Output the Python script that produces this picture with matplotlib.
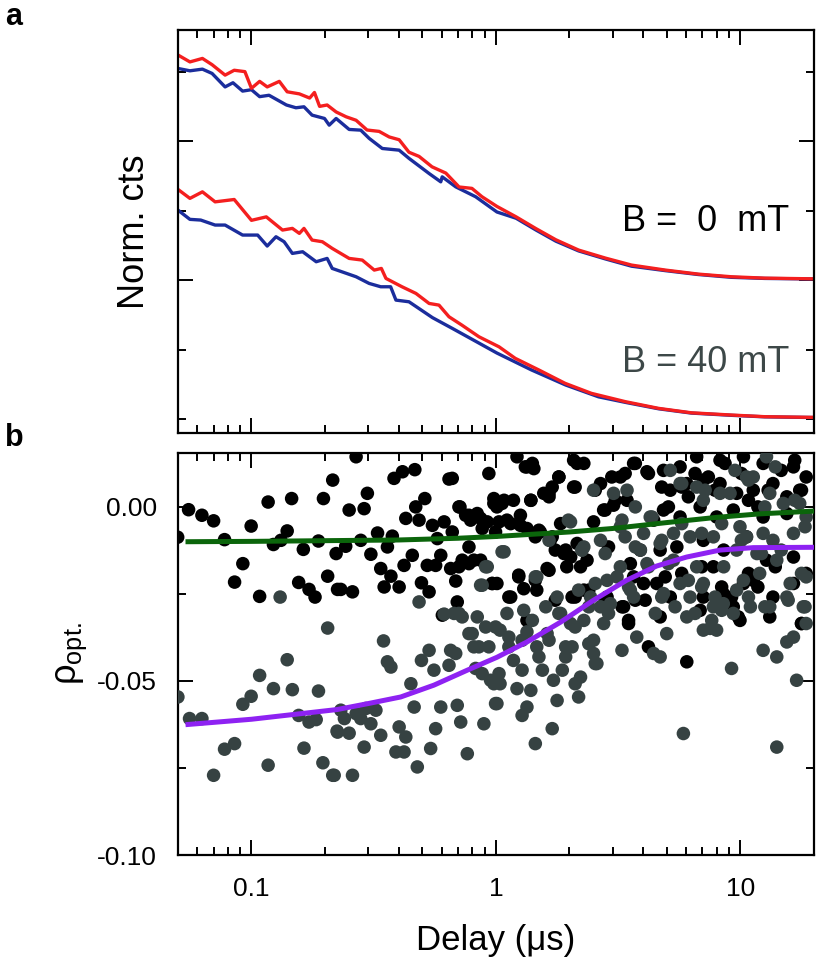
import matplotlib.pyplot as plt
from matplotlib.ticker import FixedLocator, LogLocator, NullFormatter

plt.rcParams['font.family'] = ['Liberation Sans', 'DejaVu Sans']
plt.rcParams['mathtext.fontset'] = 'custom'
plt.rcParams['mathtext.rm'] = 'Liberation Sans'

## Panel a: normalised counts (upper pair = B 0 mT offset by 1, lower pair = B 40 mT)
t_red_0 = [0.050, 0.056, 0.063, 0.069, 0.078, 0.085, 0.094, 0.100, 0.108, 0.116, 0.130, 0.140,
           0.157, 0.173, 0.181, 0.190, 0.204, 0.222, 0.244, 0.268, 0.297, 0.333, 0.366, 0.402,
           0.441, 0.485, 0.548, 0.624, 0.707, 0.798, 0.877, 1.01, 1.21, 1.46, 1.76, 2.18, 2.81,
           3.59, 4.94, 6.74, 9.19, 12.6, 20.0]
y_red_0 = [2.62, 2.57, 2.595, 2.55, 2.475, 2.51, 2.50, 2.38, 2.43, 2.39, 2.43, 2.355,
           2.34, 2.31, 2.35, 2.25, 2.26, 2.21, 2.175, 2.15, 2.08, 2.07, 2.03, 2.01,
           1.92, 1.89, 1.815, 1.77, 1.67, 1.66, 1.60, 1.53, 1.455, 1.37, 1.29, 1.216, 1.158,
           1.108, 1.072, 1.043, 1.024, 1.014, 1.009]
t_blue_0 = [0.050, 0.056, 0.063, 0.069, 0.078, 0.084, 0.092, 0.100, 0.108, 0.118, 0.139, 0.152,
            0.164, 0.177, 0.199, 0.208, 0.222, 0.251, 0.280, 0.303, 0.343, 0.402, 0.441, 0.533,
            0.595, 0.603, 0.685, 0.826, 1.01, 1.21, 1.46, 1.76, 2.18, 2.81, 3.59, 4.94, 6.74,
            9.19, 12.6, 20.0]
y_blue_0 = [2.523, 2.506, 2.518, 2.487, 2.39, 2.42, 2.36, 2.37, 2.32, 2.33, 2.26, 2.24,
            2.247, 2.187, 2.163, 2.115, 2.163, 2.084, 2.079, 2.02, 1.947, 1.935, 1.876, 1.767,
            1.707, 1.743, 1.671, 1.60, 1.49, 1.445, 1.36, 1.28, 1.21, 1.152, 1.10, 1.068, 1.04,
            1.02, 1.012, 1.008]
t_red_40 = [0.050, 0.056, 0.063, 0.071, 0.085, 0.100, 0.115, 0.134, 0.147, 0.157, 0.164, 0.177,
            0.195, 0.214, 0.251, 0.284, 0.318, 0.340, 0.355, 0.413, 0.471, 0.533, 0.585, 0.643,
            0.726, 0.853, 1.03, 1.20, 1.50, 1.92, 2.46, 3.39, 4.63, 6.31, 9.19, 12.6, 20.0]
y_red_40 = [1.653, 1.588, 1.635, 1.563, 1.58, 1.43, 1.455, 1.36, 1.372, 1.336, 1.372, 1.288,
            1.276, 1.228, 1.156, 1.144, 1.072, 1.084, 1.012, 0.952, 0.904, 0.832, 0.82, 0.736,
            0.676, 0.592, 0.52, 0.437, 0.353, 0.257, 0.185, 0.125, 0.077, 0.045, 0.029, 0.017, 0.012]
t_blue_40 = [0.050, 0.056, 0.062, 0.071, 0.078, 0.092, 0.106, 0.116, 0.126, 0.136, 0.147, 0.162,
             0.184, 0.204, 0.214, 0.268, 0.303, 0.338, 0.371, 0.390, 0.441, 0.55, 0.664, 0.826,
             1.01, 1.40, 1.93, 2.63, 3.39, 4.63, 6.31, 9.19, 12.6, 20.0]
y_blue_40 = [1.504, 1.437, 1.432, 1.396, 1.396, 1.324, 1.324, 1.245, 1.312, 1.276, 1.192, 1.204,
             1.132, 1.156, 1.084, 1.024, 0.976, 0.952, 0.952, 0.856, 0.844, 0.73, 0.652, 0.56,
             0.475, 0.353, 0.245, 0.16, 0.12, 0.074, 0.043, 0.027, 0.016, 0.011]

## Panel b: rho_opt. for B = 0 mT (black) and B = 40 mT (grey)
t_black = [0.0499, 0.0553, 0.0627, 0.070, 0.0776, 0.0853, 0.0922, 0.0997, 0.108, 0.117, 0.123, 0.132,
           0.140, 0.146, 0.156, 0.163, 0.172, 0.182, 0.188, 0.197, 0.205, 0.215, 0.222, 0.225,
           0.268, 0.232, 0.259, 0.251, 0.289, 0.298, 0.243, 0.280, 0.308, 0.328, 0.338, 0.349,
           0.360, 0.372, 0.377, 0.383, 0.402, 0.415, 0.421, 0.428, 0.455, 0.466, 0.470, 0.485,
           0.496, 0.512, 0.533, 0.524, 0.550, 0.567, 0.576, 0.595, 0.614, 0.643, 0.653, 0.663,
           0.685, 0.695, 0.713, 0.728, 0.752, 0.776, 0.788, 0.813, 0.839, 0.866, 0.879, 0.922,
           0.936, 0.966, 0.981, 0.997, 0.604,
           1.22, 1.34, 1.43, 2.08, 2.29, 3.66, 4.15, 1.01, 1.08, 1.18, 1.03, 1.15,
           1.26, 1.39, 1.34, 1.57, 1.70, 1.81, 1.65, 1.52, 1.67, 1.84, 1.75, 1.90,
           2.02, 2.08, 2.15, 2.22, 2.36, 2.51, 2.68, 2.76, 2.89, 3.03, 3.23, 3.44,
           3.55, 3.90, 4.08, 3.49, 4.21, 4.42, 1.01, 1.15, 1.24, 1.30, 1.47, 1.62,
           1.95, 2.05, 2.29, 2.85, 3.33, 3.66, 4.02, 1.34, 1.45,
           4.85, 5.67, 6.63, 8.26, 10.3, 12.4, 16.5, 18.6, 5.17, 6.04, 7.06, 8.26,
           9.66, 11.3, 13.6, 15.5, 17.5, 4.85, 5.67, 6.85, 8.00, 9.36, 12.4, 15.5,
           4.70, 5.50, 7.06, 8.55, 10.6, 12.8, 16.5, 18.6, 4.55, 5.85, 7.06, 8.52,
           10.3, 11.3, 13.6, 16.5, 4.70, 6.85, 9.97, 13.2, 17.8, 6.04, 5.17, 7.76, 9.36,
           0.663, 0.706, 0.776, 0.866, 0.981, 1.06, 1.11, 1.26, 1.32, 1.41, 1.39, 1.50,
           1.65, 1.70, 1.81, 1.93, 2.02, 2.15, 2.11, 2.55, 2.80, 2.98, 3.08, 3.38,
           3.72, 4.21, 4.77, 5.08, 5.76, 6.13, 6.53, 7.40, 7.88, 8.66, 10.1, 10.8,
           11.8, 13.0, 14.7, 16.7, 17.8, 0.706, 0.776, 0.966, 1.13, 1.24, 1.45, 1.65,
           1.75, 2.11, 2.40, 2.80, 3.28, 3.49, 3.72, 4.93, 5.76, 6.95, 8.39, 9.81,
           10.8, 11.8, 13.9, 17.8, 9.21]
rho_black = [-0.0087, -0.0008, -0.0024, -0.0040, -0.0094, -0.0216, -0.0163, -0.0055, -0.0257, 0.0014, -0.0108, -0.0096,
             -0.0069, 0.0024, -0.0217, -0.0122, -0.0237, -0.0259, -0.0098, 0.0024, -0.0199, 0.0077, -0.0134, -0.0237,
             0.0144, -0.0237, -0.0244, -0.0009, -0.0005, 0.0039, -0.0113, -0.0096, -0.0136, -0.0075, -0.0177, -0.0230,
             -0.0115, -0.0199, -0.0084, 0.0082, -0.0230, 0.0101, -0.0168, -0.0033, -0.0139, 0.0107, 0.0000, -0.0038,
             -0.0218, 0.0024, -0.0244, -0.0168, -0.0053, -0.0168, -0.0091, -0.0139, -0.0043, 0.0080, -0.0177, -0.0072,
             -0.0213, -0.0273, 0.0000, -0.0153, -0.0024, -0.0115, -0.0038, -0.0153, -0.0019, -0.0153, -0.0062, -0.0043,
             0.0096, -0.0220, 0.0010, -0.0072, -0.0311,
             0.0144, 0.0115, 0.0110, 0.0134, 0.0125, 0.0125, 0.0101, 0.0000, 0.0019, 0.0019, -0.0043, -0.0048,
             -0.0024, 0.0019, -0.0062, 0.0039, 0.0057, 0.0086, 0.0029, -0.0072, -0.0096, -0.0048, -0.0124, -0.0134,
             -0.0144, 0.0057, -0.0105, -0.0172, -0.0153, -0.0043, 0.0067, -0.0009, -0.0115, 0.0005, 0.0086, 0.0019,
             -0.0163, -0.0124, -0.0268, -0.0335, -0.0402, -0.0038, -0.0220, -0.0259, -0.0201, -0.0235, -0.0239, -0.0177,
             -0.0172, -0.0259, -0.0239, -0.0259, -0.0287, -0.0201, -0.0220, -0.0326, -0.0086,
             0.0105, 0.0115, 0.0144, 0.0134, 0.0144, 0.0125, 0.0115, 0.0086, 0.0048, 0.0067, 0.0077, 0.0067,
             0.0039, 0.0048, 0.0067, 0.0029, 0.0048, -0.0009, -0.0029, 0.0000, -0.0029, -0.0009, -0.0029, -0.0019,
             -0.0124, -0.0115, -0.0096, -0.0124, -0.0086, -0.0153, -0.0144, -0.0191, -0.0220, -0.0211, -0.0259, -0.0249,
             -0.0220, -0.0211, -0.0259, -0.0220, -0.0316, -0.0297, -0.0326, -0.0316, -0.0335, -0.0445, -0.0259, -0.0172, -0.0287,
             0.0082, 0.0000, -0.0024, -0.0033, 0.0024, 0.0010, -0.0038, -0.0053, 0.0115, 0.0125, 0.0019, -0.0067,
             0.0039, -0.0086, 0.0086, -0.0124, -0.0144, 0.0125, 0.0057, 0.0048, -0.0009, 0.0086, 0.0019, 0.0096,
             0.0125, 0.0096, 0.0057, 0.0000, 0.0057, 0.0029, 0.0096, 0.0086, 0.0048, 0.0125, 0.0096, 0.0019,
             0.0000, 0.0048, 0.0105, 0.0134, 0.0048, -0.0172, -0.0163, -0.0220, -0.0259, -0.0196, -0.0211, -0.0182,
             -0.0268, -0.0259, -0.0239, -0.0268, -0.0287, -0.0326, -0.0268, -0.0201, -0.0191, -0.0172, -0.0230, -0.0316,
             -0.0191, -0.0230, -0.0172, -0.0335, -0.0259]

t_grey = [0.0500, 0.0558, 0.0627, 0.0700, 0.0776, 0.0853, 0.0922, 0.0997, 0.108, 0.117, 0.123, 0.131,
          0.140, 0.147, 0.156, 0.164, 0.172, 0.184, 0.188, 0.196, 0.205, 0.215, 0.224,
          0.218, 0.259, 0.225, 0.251, 0.232, 0.240, 0.268, 0.280, 0.294, 0.308, 0.323, 0.289,
          0.338, 0.347, 0.360, 0.372, 0.390, 0.402, 0.421, 0.428, 0.449, 0.463, 0.477, 0.485,
          0.496, 0.533, 0.541, 0.558, 0.567, 0.595, 0.614, 0.643, 0.653, 0.674, 0.695, 0.718,
          0.728, 0.764, 0.776, 0.813, 0.826, 0.839, 0.893, 0.908, 0.922, 0.866, 0.936, 0.981,
          0.997, 0.951, 0.879,
          1.08, 1.11, 1.04, 1.01, 1.13, 1.18, 1.22, 1.30, 1.34, 1.39, 1.34, 1.28,
          1.45, 1.47, 1.55, 1.60, 1.62, 1.70, 1.72, 1.78, 1.84, 1.93, 1.87, 2.02,
          2.05, 2.11, 2.18, 2.22, 2.25, 2.18, 2.29, 2.44, 2.51, 2.51, 2.59, 2.68,
          2.76, 2.85, 2.94, 3.03, 3.13, 3.23, 3.28, 3.38, 3.44, 3.55, 3.66, 3.77,
          3.90, 4.02, 4.15, 4.28, 4.42, 2.51, 2.02, 2.29, 2.68, 3.23, 1.47, 1.78, 1.04,
          4.70, 5.00, 4.85, 5.85, 6.04, 6.23, 7.06, 7.52, 8.00, 7.76, 8.52, 9.21,
          9.36, 9.66, 10.3, 11.0, 12.4, 13.2, 14.1, 14.1, 15.5, 16.5, 17.0, 18.1,
          18.6, 18.6, 15.5, 16.0, 14.1, 12.0, 11.7, 10.6, 8.55, 9.66, 7.06, 6.63,
          5.67, 5.33, 4.70, 5.33, 6.23, 7.76, 9.08, 10.6, 11.3, 13.2, 15.0, 17.5,
          18.6, 16.5, 13.6, 7.06, 8.26, 5.67, 6.63, 12.8, 5.17, 9.97, 12.4,
          0.879, 1.06, 0.908, 1.45, 1.65, 1.98, 2.25, 2.55, 2.80, 3.28, 3.72, 4.35,
          4.77, 5.76, 7.18, 8.39, 9.51, 10.8, 12.6, 13.9, 16.7, 18.4, 10.1, 12.2,
          14.7, 17.8, 5.76, 6.95, 3.72, 4.21, 5.08, 6.13, 6.95, 7.88, 4.77, 4.49,
          5.41, 6.53, 7.64, 8.39, 10.8, 12.6, 15.7, 18.4, 3.49, 2.89, 2.40, 2.11,
          1.81, 1.65, 1.41, 1.28, 1.13, 0.997, 0.800, 0.706, 0.685, 0.852, 1.03, 1.28,
          1.50, 1.93, 2.40, 2.55]
rho_grey = [-0.0546, -0.0608, -0.0608, -0.0771, -0.0696, -0.0680, -0.0567, -0.0544, -0.0484, -0.0742, -0.0522, -0.0259,
            -0.0439, -0.0525, -0.0599, -0.0693, -0.0618, -0.0611, -0.0529, -0.0735, -0.0348, -0.0771, -0.0644,
            -0.0771, -0.0771, -0.0647, -0.0650, -0.0584, -0.0608, -0.0594, -0.0608, -0.0579, -0.0623, -0.0584, -0.0690,
            -0.0656, -0.0385, -0.0445, -0.0460, -0.0704, -0.0632, -0.0704, -0.0661, -0.0508, -0.0575, -0.0747, -0.0273,
            -0.0441, -0.0412, -0.0694, -0.0469, -0.0637, -0.0575, -0.0308, -0.0455, -0.0412, -0.0306, -0.0570, -0.0618,
            -0.0316, -0.0709, -0.0364, -0.0402, -0.0464, -0.0316, -0.0623, -0.0345, -0.0172, -0.0225, -0.0402, -0.0508,
            -0.0565, -0.0498, -0.0479,
            -0.0129, -0.0306, -0.0508, -0.0565, -0.0374, -0.0441, -0.0522, -0.0297, -0.0359, -0.0527, -0.0575, -0.0599,
            -0.0680, -0.0402, -0.0469, -0.0287, -0.0364, -0.0637, -0.0498, -0.0556, -0.0306, -0.0431, -0.0469, -0.0335,
            -0.0402, -0.0508, -0.0546, -0.0489, -0.0124, -0.0239, -0.0326, -0.0259, -0.0383, -0.0421, -0.0450, -0.0287,
            -0.0335, -0.0211, -0.0278, 0.0039, -0.0201, -0.0057, -0.0412, -0.0086, 0.0048, -0.0239, -0.0259, -0.0374,
            -0.0124, -0.0076, -0.0163, -0.0029, -0.0421, 0.0048, -0.0043, -0.0115, -0.0096, -0.0172, -0.0201, -0.0259, -0.0354,
            -0.0431, -0.0364, -0.0249, -0.0651, -0.0316, -0.0259, -0.0354, -0.0349, -0.0354, -0.0287, -0.0278, -0.0464,
            -0.0306, -0.0239, -0.0211, -0.0287, -0.0412, -0.0287, -0.0431, -0.0690, -0.0388, -0.0374, -0.0498, -0.0287,
            -0.0335, -0.0201, -0.0259, -0.0220, -0.0153, -0.0191, -0.0134, -0.0086, -0.0172, -0.0124, -0.0220, -0.0172,
            -0.0220, -0.0153, -0.0105, -0.0076, -0.0086, -0.0086, 0.0039, 0.0086, 0.0086, 0.0039, 0.0010, 0.0010,
            -0.0029, -0.0076, -0.0096, 0.0019, 0.0039, 0.0067, 0.0057, 0.0144, 0.0105, -0.0057, -0.0076,
            -0.0225, -0.0129, -0.0172, -0.0201, -0.0096, -0.0038, -0.0124, -0.0220, -0.0134, -0.0038, 0.0000, -0.0029,
            -0.0096, 0.0067, 0.0048, -0.0048, 0.0105, 0.0077, 0.0000, 0.0115, 0.0019, -0.0057, -0.0096, -0.0134,
            -0.0124, -0.0191, -0.0048, -0.0076, -0.0115, -0.0172, -0.0163, -0.0211, -0.0230, -0.0259, -0.0259, -0.0306,
            -0.0287, -0.0306, -0.0326, -0.0297, -0.0259, -0.0287, -0.0268, -0.0287, -0.0230, -0.0306, -0.0287, -0.0345,
            -0.0306, -0.0383, -0.0326, -0.0383, -0.0402, -0.0345, -0.0364, -0.0306, -0.0421, -0.0402, -0.0479, -0.0469,
            -0.0431, -0.0402, -0.0393, -0.0450]

# fitted curves
t_fit_0 = [0.055, 0.1, 0.2, 0.4, 0.7, 1.0, 2.0, 3.0, 5.0, 8.0, 12.0, 20.0]
rho_fit_0 = [-0.0100, -0.0099, -0.0097, -0.0095, -0.0090, -0.0085, -0.0072, -0.0062, -0.0045, -0.0030, -0.0020, -0.0012]
t_fit_40 = [0.055, 0.1, 0.2245, 0.30, 0.408, 0.558, 0.764, 1.01, 1.34, 1.84, 2.51, 3.42, 4.54, 6.03, 8.26, 11.3, 20.0]
rho_fit_40 = [-0.0625, -0.0610, -0.0582, -0.0565, -0.0546, -0.0512, -0.0469, -0.0432, -0.0388, -0.0331, -0.0268,
              -0.0211, -0.0170, -0.0144, -0.0124, -0.0117, -0.0116]

x_ticks = [0.1, 1, 10]
x_ticklabels = ['0.1', '1', '10']
rho_ticks = [-0.10, -0.05, 0.00]
rho_ticklabels = ['-0.10', '-0.05', '0.00']

RED = '#f41f1f'
BLUE = '#1b2d9c'
GREY = '#364242'

fig = plt.figure(figsize=(8.16, 9.66), dpi=100)
ax1 = fig.add_axes([0.218, 0.5518, 0.7794, 0.4172])
ax2 = fig.add_axes([0.218, 0.1149, 0.7794, 0.4162])

for ax in (ax1, ax2):
    ax.set_xscale('log')
    ax.set_xlim(0.05, 20)
    ax.xaxis.set_major_locator(FixedLocator(x_ticks))
    ax.xaxis.set_minor_locator(LogLocator(base=10, subs=range(2, 10)))
    ax.xaxis.set_minor_formatter(NullFormatter())
    ax.tick_params(which='both', direction='in', top=True, right=True, width=1.4)
    ax.tick_params(which='major', length=10.5)
    ax.tick_params(which='minor', length=5.5)
    for s in ax.spines.values():
        s.set_linewidth(1.6)

# panel a
ax1.plot(t_blue_0, y_blue_0, color=BLUE, lw=2.4)
ax1.plot(t_red_0, y_red_0, color=RED, lw=2.4)
ax1.plot(t_blue_40, y_blue_40, color=BLUE, lw=2.4)
ax1.plot(t_red_40, y_red_40, color=RED, lw=2.4)
ax1.set_ylim(-0.1, 2.8)
ax1.set_yticks([1, 2])
ax1.set_yticks([0, 0.5, 1.5, 2.5], minor=True)
ax1.tick_params(labelbottom=False, labelleft=False)
ax1.set_ylabel('Norm. cts', fontsize=26)
ax1.yaxis.set_label_coords(-0.040, 0.5)
ax1.text(0.962, 0.524, 'B =  0  mT', transform=ax1.transAxes, ha='right', va='center',
         fontsize=26, color='black')
ax1.text(0.962, 0.174, 'B = 40 mT', transform=ax1.transAxes, ha='right', va='center',
         fontsize=26, color='#3d4848')

# panel b
ax2.scatter(t_black, rho_black, s=95, color='black', edgecolors='none', zorder=2)
ax2.scatter(t_grey, rho_grey, s=95, color=GREY, edgecolors='none', zorder=3)
ax2.plot(t_fit_0, rho_fit_0, color='#0b650b', lw=3.6, zorder=4)
ax2.plot(t_fit_40, rho_fit_40, color='#8e22f2', lw=3.6, zorder=4)
ax2.set_ylim(-0.10, 0.0155)
ax2.set_yticks(rho_ticks)
ax2.set_yticklabels(rho_ticklabels)
ax2.set_yticks([-0.075, -0.025], minor=True)
ax2.set_xticklabels(x_ticklabels)
ax2.tick_params(axis='y', labelsize=19, pad=15)
ax2.tick_params(axis='x', labelsize=19, pad=16)
ax2.set_xlabel('Delay (μs)', fontsize=25)
ax2.xaxis.set_label_coords(0.5, -0.172)
ax2.set_ylabel('ρ$_{\\mathrm{opt.}}$', fontsize=26)
ax2.yaxis.set_label_coords(-0.14, 0.5)

fig.text(0.006, 0.998, 'a', fontsize=22, fontweight='bold', va='top')
fig.text(0.006, 0.562, 'b', fontsize=22, fontweight='bold', va='top')

fig.savefig('out.png', dpi=100)
